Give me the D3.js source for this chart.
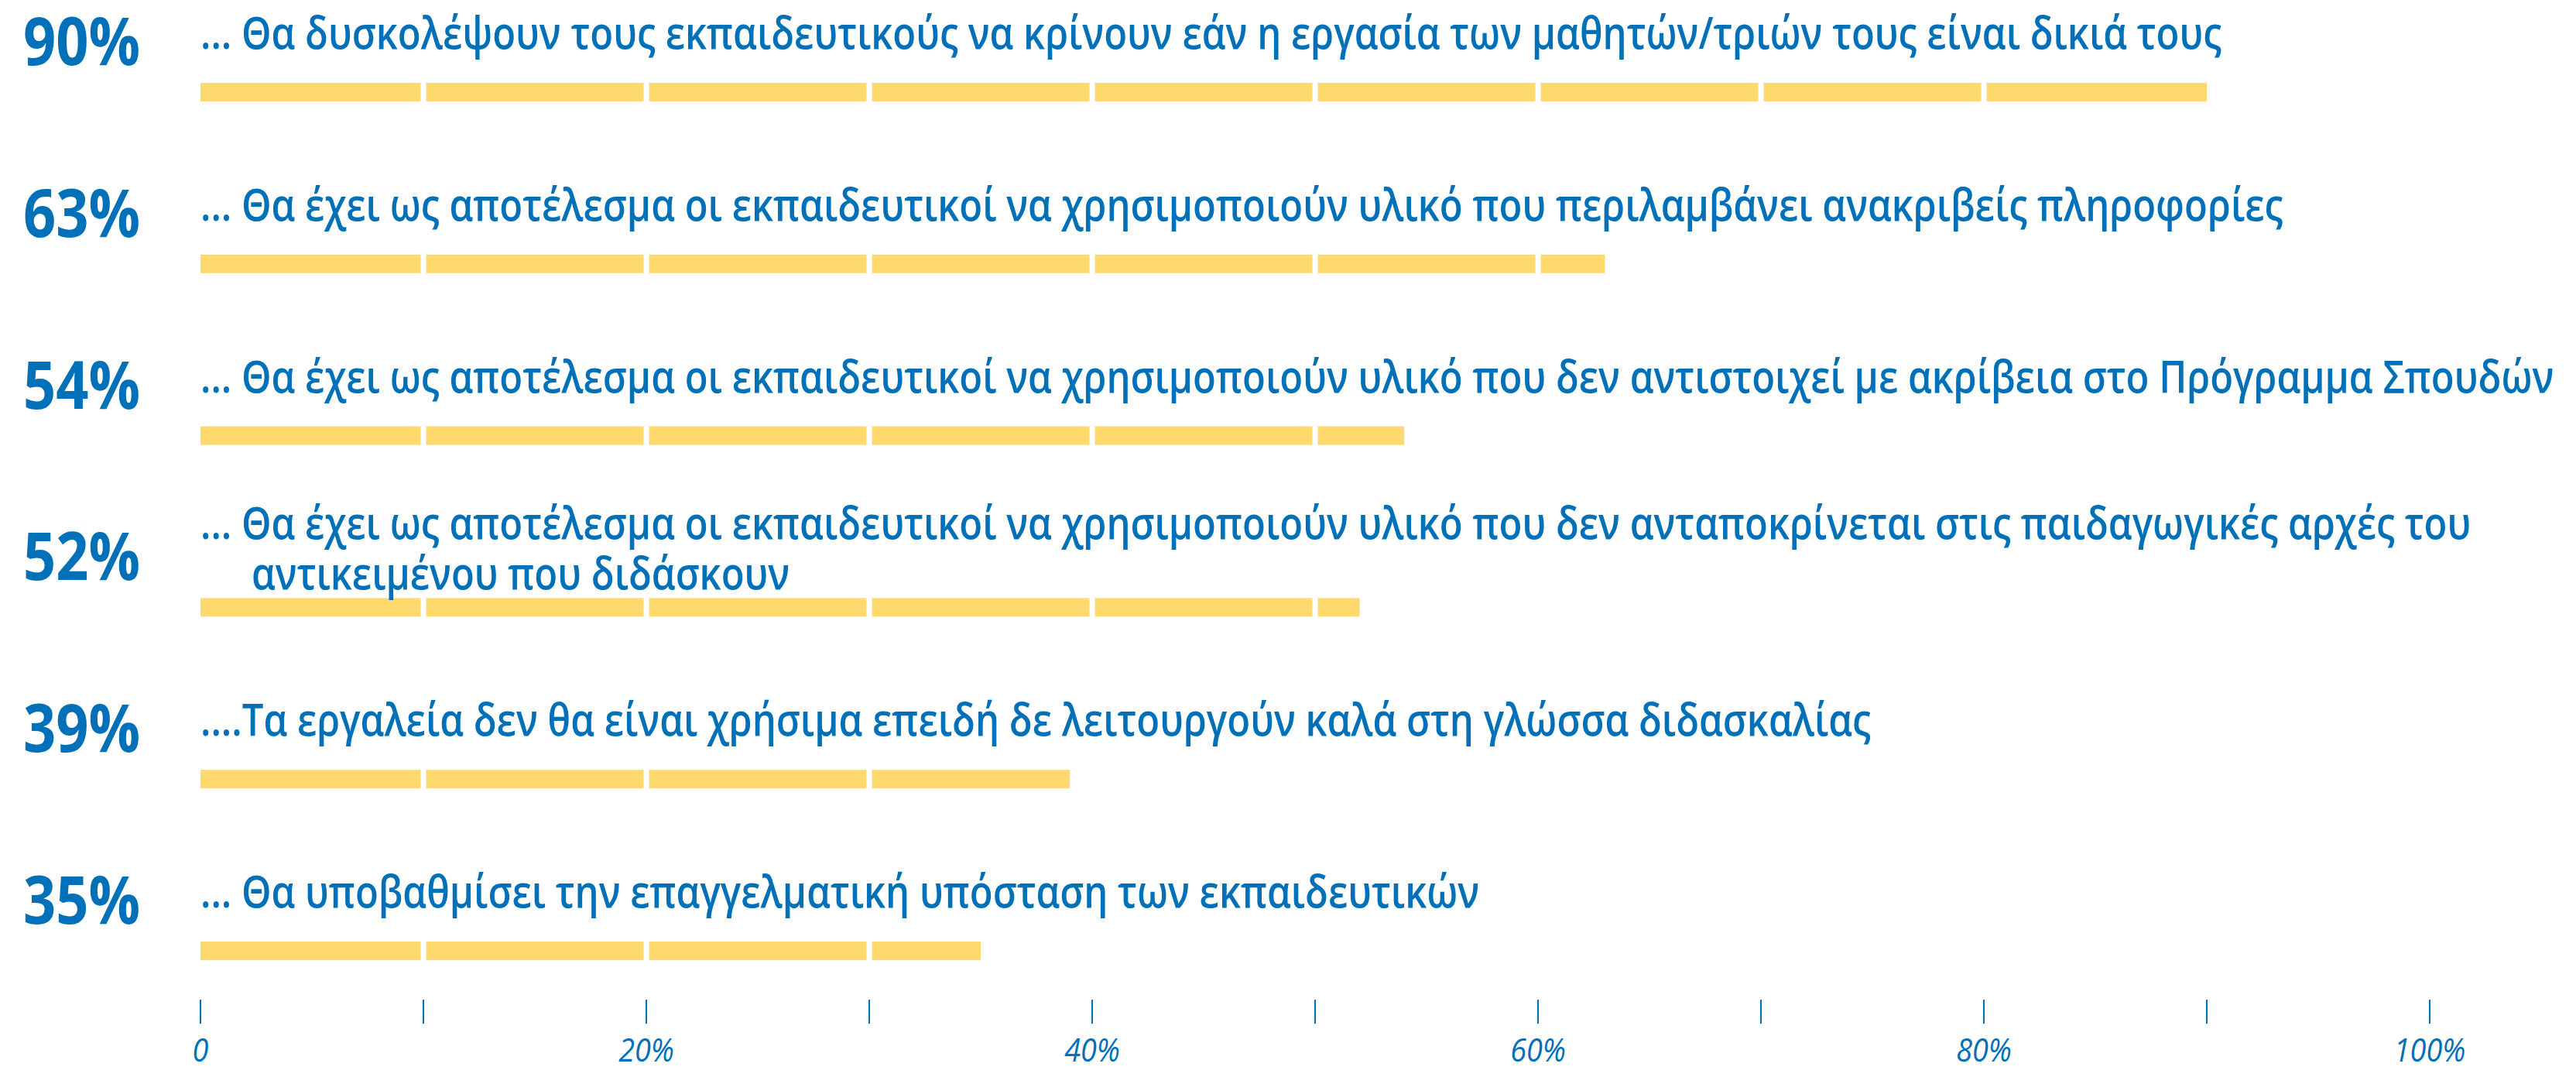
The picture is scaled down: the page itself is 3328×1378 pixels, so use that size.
<!DOCTYPE html>
<html>
<head>
<meta charset="utf-8">
<script src="https://cdn.jsdelivr.net/npm/d3@7"></script>
<style>
  html, body { margin: 0; padding: 0; background: #ffffff; }
  svg { display: block; }
</style>
</head>
<body>
<svg id="chart" width="3328" height="1378"></svg>
<script>
// ---- data ----
const categories = [
  ["... Θα δυσκολέψουν τους εκπαιδευτικούς να κρίνουν εάν η εργασία των μαθητών/τριών τους είναι δικιά τους"],
  ["... Θα έχει ως αποτέλεσμα οι εκπαιδευτικοί να χρησιμοποιούν υλικό που περιλαμβάνει ανακριβείς πληροφορίες"],
  ["... Θα έχει ως αποτέλεσμα οι εκπαιδευτικοί να χρησιμοποιούν υλικό που δεν αντιστοιχεί με ακρίβεια στο Πρόγραμμα Σπουδών"],
  ["... Θα έχει ως αποτέλεσμα οι εκπαιδευτικοί να χρησιμοποιούν υλικό που δεν ανταποκρίνεται στις παιδαγωγικές αρχές του", "αντικειμένου που διδάσκουν"],
  ["....Τα εργαλεία δεν θα είναι χρήσιμα επειδή δε λειτουργούν καλά στη γλώσσα διδασκαλίας"],
  ["... Θα υποβαθμίσει την επαγγελματική υπόσταση των εκπαιδευτικών"]
];
const values = [90, 63, 54, 52, 39, 35];
const tickValues = [0, 10, 20, 30, 40, 50, 60, 70, 80, 90, 100];
const tickLabels = ["0", "", "20%", "", "40%", "", "60%", "", "80%", "", "100%"];

// ---- style ----
const BLUE = "#0070b8";
const YELLOW = "#ffd96e";
const FONT = "'Open Sans', 'Noto Sans', sans-serif";
const CAT_SX = 0.86;     // horizontal condensing of category text
const PCT_SX = 0.86;     // horizontal condensing of percentage labels
const TICK_SX = 0.9;

const svg = d3.select("#chart");
const x = d3.scaleLinear().domain([0, 100]).range([259, 3139]);
const y = d3.scalePoint().domain(d3.range(values.length)).range([107, 1216]);
const barH = 24;
const gap = 3.5;

const rows = svg.selectAll("g.row").data(values.map((v, i) => ({ v, i, lines: categories[i] })))
  .join("g").attr("class", "row");

// bars drawn as 10%-segments
rows.each(function (d) {
  const g = d3.select(this);
  const segs = [];
  for (let s = 0; s < d.v; s += 10) segs.push([s, Math.min(s + 10, d.v)]);
  g.selectAll("rect").data(segs).join("rect")
    .attr("x", s => x(s[0]) + (s[0] === 0 ? 0 : gap))
    .attr("width", s => x(s[1]) - (s[1] === d.v ? 0 : gap) - x(s[0]) - (s[0] === 0 ? 0 : gap))
    .attr("y", y(d.i))
    .attr("height", barH)
    .attr("fill", YELLOW);
});

// percent labels
rows.append("text")
  .attr("class", "pct")
  .attr("transform", d => `translate(30,${y(d.i) - 23}) scale(${PCT_SX},1)`)
  .attr("fill", BLUE)
  .attr("font-family", FONT)
  .attr("font-weight", 700)
  .attr("font-size", 86)
  .text(d => d3.format("d")(d.v) + "%");

// category labels
rows.each(function (d) {
  const g = d3.select(this);
  const n = d.lines.length;
  d.lines.forEach((line, k) => {
    const tx = x(0) + (k > 0 ? 66 : 0);
    const ty = y(d.i) - 44 + (k - (n - 1) / 2) * 65;
    g.append("text")
      .attr("class", "cat")
      .attr("transform", `translate(${tx},${ty}) scale(${CAT_SX},1)`)
      .attr("fill", BLUE)
      .attr("font-family", FONT)
      .attr("font-weight", 600)
      .attr("font-size", 57)
      .text(line);
  });
});

// axis ticks
const axis = svg.append("g");
axis.selectAll("line").data(tickValues).join("line")
  .attr("x1", d => x(d)).attr("x2", d => x(d))
  .attr("y1", 1291).attr("y2", 1322)
  .attr("stroke", BLUE).attr("stroke-width", 2);
axis.selectAll("text").data(tickValues).join("text")
  .attr("transform", d => `translate(${x(d)},1371) scale(${TICK_SX},1)`)
  .attr("text-anchor", "middle")
  .attr("fill", BLUE)
  .attr("font-family", FONT)
  .attr("font-style", "italic")
  .attr("font-size", 42)
  .text((d, i) => tickLabels[i]);
</script>
</body>
</html>
